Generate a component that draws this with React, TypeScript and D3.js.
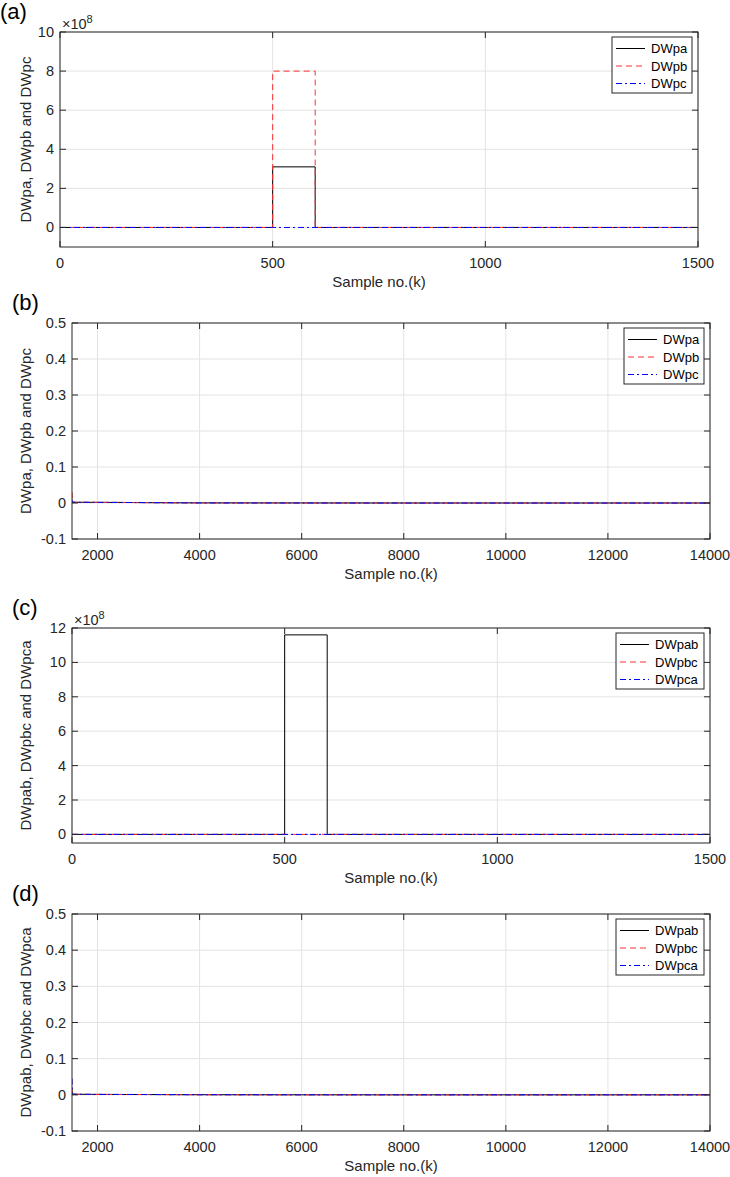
import React, { useRef, useEffect } from "react";
import * as d3 from "d3";

// samples 0..1500 for panels (a) and (c), step values
const kShort = [0, 500, 600, 1500];
const dwpa = [0, 3.1e8, 0, 0];
const dwpb = [0, 8e8, 0, 0];
const dwpc = [0, 0, 0, 0];
const dwpab = [0, 11.6e8, 0, 0];
const dwpbc = [0, 0, 0, 0];
const dwpca = [0, 0, 0, 0];

// samples 1500..14000 for panels (b) and (d)
const kLong = [1500, 1510, 1600, 2000, 2500, 3000, 3500, 4000, 6000, 8000, 10000, 12000, 14000];
const dwpaLong = [0.004, 0.002, 0.002, 0.0018, 0.0015, 0.001, 0.0006, 0.0003, 0.0001, 0, 0, 0, 0];
const dwpbLong = [0.03, 0.002, 0.002, 0.0018, 0.0015, 0.001, 0.0006, 0.0003, 0.0001, 0, 0, 0, 0];
const dwpcLong = [0.01, 0.002, 0.002, 0.0018, 0.0015, 0.001, 0.0006, 0.0003, 0.0001, 0, 0, 0, 0];
const dwpabLong = [0.01, 0.002, 0.0015, 0.0012, 0.001, 0.0008, 0.0005, 0.0003, 0.0001, 0, 0, 0, 0];
const dwpbcLong = [0.02, 0.002, 0.0015, 0.0012, 0.001, 0.0008, 0.0005, 0.0003, 0.0001, 0, 0, 0, 0];
const dwpcaLong = [0.045, 0.002, 0.0015, 0.0012, 0.001, 0.0008, 0.0005, 0.0003, 0.0001, 0, 0, 0, 0];

const xTicksShort = [0, 500, 1000, 1500];
const xTicksLong = [2000, 4000, 6000, 8000, 10000, 12000, 14000];
const yTicksA = [0, 2, 4, 6, 8, 10];
const yTicksC = [0, 2, 4, 6, 8, 10, 12];
const yTicksSmall = [-0.1, 0, 0.1, 0.2, 0.3, 0.4, 0.5];

const FONT = "'Liberation Sans', Arial, Helvetica, sans-serif";
const AX = "#262626";
const GRID = "#e3e3e3";

const styles = {
  black: { color: "#000000", dash: null },
  red: { color: "#ff3030", dash: "6,4" },
  blue: { color: "#0000ff", dash: "6,3,2,3" },
};

const panels = [
  {
    tag: "(a)", tagX: 0,
    left: 60, right: 698, top: 32, bottom: 247,
    xDomain: [0, 1500], yDomain: [-1, 10], yScale: 1e8, exp: true,
    xTicks: xTicksShort, yTicks: yTicksA,
    yLabel: "DWpa, DWpb and DWpc", legendW: 80, step: true,
    series: [
      { name: "DWpa", k: kShort, v: dwpa, s: styles.black },
      { name: "DWpb", k: kShort, v: dwpb, s: styles.red },
      { name: "DWpc", k: kShort, v: dwpc, s: styles.blue },
    ],
  },
  {
    tag: "(b)", tagX: 12,
    left: 72, right: 710, top: 323, bottom: 539,
    xDomain: [1500, 14000], yDomain: [-0.1, 0.5], yScale: 1, exp: false,
    xTicks: xTicksLong, yTicks: yTicksSmall,
    yLabel: "DWpa, DWpb and DWpc", legendW: 80, step: false,
    series: [
      { name: "DWpa", k: kLong, v: dwpaLong, s: styles.black },
      { name: "DWpb", k: kLong, v: dwpbLong, s: styles.red },
      { name: "DWpc", k: kLong, v: dwpcLong, s: styles.blue },
    ],
  },
  {
    tag: "(c)", tagX: 12,
    left: 72, right: 710, top: 628, bottom: 843,
    xDomain: [0, 1500], yDomain: [-0.5, 12], yScale: 1e8, exp: true,
    xTicks: xTicksShort, yTicks: yTicksC,
    yLabel: "DWpab, DWpbc and DWpca", legendW: 88, step: true,
    series: [
      { name: "DWpab", k: kShort, v: dwpab, s: styles.black },
      { name: "DWpbc", k: kShort, v: dwpbc, s: styles.red },
      { name: "DWpca", k: kShort, v: dwpca, s: styles.blue },
    ],
  },
  {
    tag: "(d)", tagX: 12,
    left: 72, right: 710, top: 914, bottom: 1131,
    xDomain: [1500, 14000], yDomain: [-0.1, 0.5], yScale: 1, exp: false,
    xTicks: xTicksLong, yTicks: yTicksSmall,
    yLabel: "DWpab, DWpbc and DWpca", legendW: 88, step: false,
    series: [
      { name: "DWpab", k: kLong, v: dwpabLong, s: styles.black },
      { name: "DWpbc", k: kLong, v: dwpbcLong, s: styles.red },
      { name: "DWpca", k: kLong, v: dwpcaLong, s: styles.blue },
    ],
  },
];

function drawPanel(svg: any, p: any, idx: number) {
  const x = d3.scaleLinear().domain(p.xDomain).range([p.left, p.right]);
  const y = d3.scaleLinear().domain(p.yDomain).range([p.bottom, p.top]);
  const g = svg.append("g").style("font-family", FONT);

  // grid
  g.selectAll(".gx").data(p.xTicks).enter().append("line")
    .attr("x1", (d) => x(d)).attr("x2", (d) => x(d))
    .attr("y1", p.top).attr("y2", p.bottom)
    .attr("stroke", GRID).attr("stroke-width", 1);
  g.selectAll(".gy").data(p.yTicks).enter().append("line")
    .attr("x1", p.left).attr("x2", p.right)
    .attr("y1", (d) => y(d)).attr("y2", (d) => y(d))
    .attr("stroke", GRID).attr("stroke-width", 1);

  // clip + series
  const clipId = "clip" + idx;
  svg.append("clipPath").attr("id", clipId).append("rect")
    .attr("x", p.left).attr("y", p.top)
    .attr("width", p.right - p.left).attr("height", p.bottom - p.top);

  const line = d3.line<any>()
    .x((d) => x(d[0]))
    .y((d) => y(d[1] / p.yScale))
    .curve(p.step ? d3.curveStepAfter : d3.curveLinear);

  p.series.forEach((s: any) => {
    const pts = s.k.map((k: number, i: number) => [k, s.v[i]]);
    g.append("path")
      .attr("d", line(pts))
      .attr("fill", "none")
      .attr("stroke", s.s.color)
      .attr("stroke-width", 1)
      .attr("stroke-dasharray", s.s.dash)
      .attr("clip-path", `url(#${clipId})`);
  });

  // box
  g.append("rect")
    .attr("x", p.left).attr("y", p.top)
    .attr("width", p.right - p.left).attr("height", p.bottom - p.top)
    .attr("fill", "none").attr("stroke", AX).attr("stroke-width", 1);

  // ticks inward, all four sides
  const tl = 6;
  p.xTicks.forEach((t: number) => {
    g.append("line").attr("x1", x(t)).attr("x2", x(t))
      .attr("y1", p.bottom).attr("y2", p.bottom - tl).attr("stroke", AX);
    g.append("line").attr("x1", x(t)).attr("x2", x(t))
      .attr("y1", p.top).attr("y2", p.top + tl).attr("stroke", AX);
    g.append("text").attr("x", x(t)).attr("y", p.bottom + 21)
      .attr("text-anchor", "middle").attr("font-size", 14.5).attr("fill", AX)
      .text(String(t));
  });
  p.yTicks.forEach((t: number) => {
    g.append("line").attr("x1", p.left).attr("x2", p.left + tl)
      .attr("y1", y(t)).attr("y2", y(t)).attr("stroke", AX);
    g.append("line").attr("x1", p.right).attr("x2", p.right - tl)
      .attr("y1", y(t)).attr("y2", y(t)).attr("stroke", AX);
    g.append("text").attr("x", p.left - 6).attr("y", y(t) + 5)
      .attr("text-anchor", "end").attr("font-size", 14.5).attr("fill", AX)
      .text(String(t));
  });

  // exponent label
  if (p.exp) {
    const e = g.append("text").attr("x", p.left + 2).attr("y", p.top - 3)
      .attr("font-size", 14.5).attr("fill", AX);
    e.append("tspan").text("\u00d710");
    e.append("tspan").attr("dy", -6).attr("font-size", 11).text("8");
  }

  // axis labels
  g.append("text")
    .attr("x", (p.left + p.right) / 2).attr("y", p.bottom + 40)
    .attr("text-anchor", "middle").attr("font-size", 15).attr("fill", AX)
    .text("Sample no.(k)");
  g.append("text")
    .attr("transform", `translate(31,${(p.top + p.bottom) / 2}) rotate(-90)`)
    .attr("text-anchor", "middle").attr("font-size", 15).attr("fill", AX)
    .text(p.yLabel);

  // panel tag
  g.append("text").attr("x", p.tagX).attr("y", p.top - 13)
    .attr("font-size", 22).attr("fill", "#000").text(p.tag);

  // legend
  const lx = p.right - 6 - p.legendW;
  const ly = p.top + 5;
  const lg = g.append("g").attr("transform", `translate(${lx},${ly})`);
  lg.append("rect").attr("width", p.legendW).attr("height", 56)
    .attr("fill", "#fff").attr("stroke", AX).attr("stroke-width", 1);
  p.series.forEach((s: any, i: number) => {
    const yy = 11.5 + i * 17.5;
    lg.append("line").attr("x1", 4).attr("x2", 33).attr("y1", yy).attr("y2", yy)
      .attr("stroke", s.s.color).attr("stroke-width", 1)
      .attr("stroke-dasharray", s.s.dash);
    lg.append("text").attr("x", 39).attr("y", yy + 4.5)
      .attr("font-size", 13).attr("fill", "#000").text(s.name);
  });
}

export default function App() {
  const ref = useRef<SVGSVGElement>(null);

  useEffect(() => {
    const svg = d3.select(ref.current);
    svg.selectAll("*").remove();
    panels.forEach((p, i) => drawPanel(svg, p, i));
  }, []);

  return (
    <div style={{ position: "absolute", left: 0, top: 0, background: "#fff" }}>
      <svg ref={ref} width={730} height={1177}></svg>
    </div>
  );
}
